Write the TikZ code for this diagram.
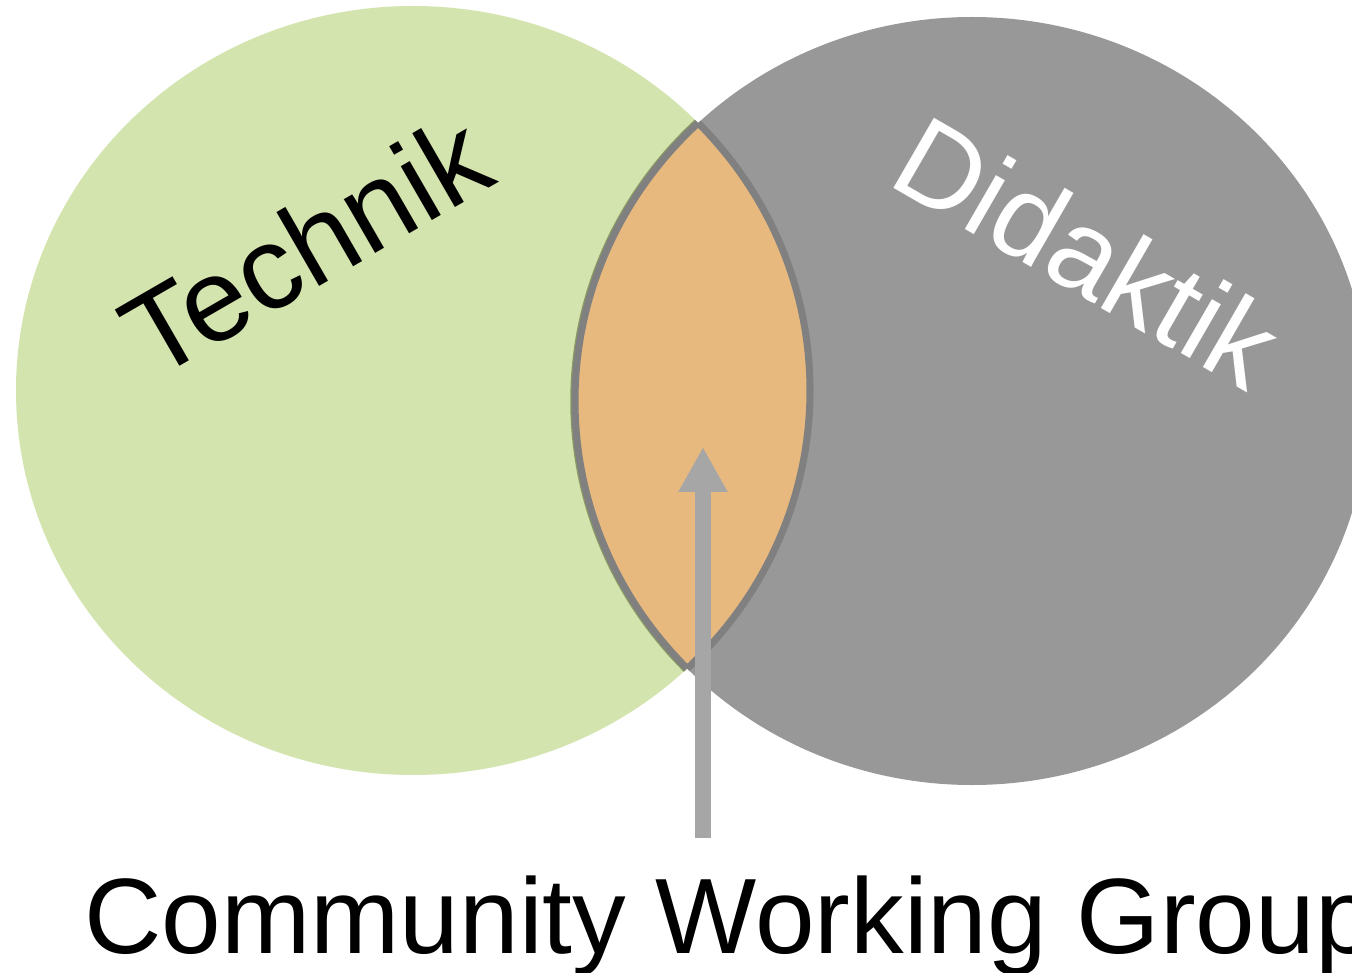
\documentclass[tikz,border=0pt]{standalone}
\usepackage{tikz}
\usepackage{xcolor}
\usepackage{fontspec}
\setmainfont{Liberation Sans}
\usetikzlibrary{arrows.meta}
\definecolor{venngreen}{HTML}{D3E4AF}
\definecolor{venngray}{HTML}{989898}
\definecolor{vennorange}{HTML}{E8B97E}
\definecolor{lensborder}{HTML}{808080}
\definecolor{lensolive}{HTML}{8A9A62}
\definecolor{pointergray}{HTML}{A6A6A6}
\tikzstyle{setlabel} = [inner sep=0pt, font=\fontsize{67}{80}\selectfont]
\tikzstyle{caption} = [inner sep=0pt, font=\fontsize{61}{73}\selectfont]
\tikzstyle{lensline} = [draw=lensborder, line width=4pt]
\tikzstyle{pointer} = [draw=pointergray, line width=9.1pt, -{Triangle[width=26.2pt, length=25.6pt]}]

\begin{document}
\begin{tikzpicture}[x=0.02cm, y=-0.02cm]
                \clip (0,0) rectangle (1352,973);
                \def\technikset{(413,390.5) ellipse [x radius=397, y radius=384.5]}
                \def\didaktikset{(972,401) ellipse [x radius=397, y radius=384]}
                
                \fill[venngreen] \technikset;
                \fill[venngray] \didaktikset;
                \begin{scope}
                    \clip \technikset;
                    \fill[vennorange] \didaktikset;
                    \draw[lensolive, line width=2pt] (972,401) ellipse [x radius=400, y radius=387];
                    \draw[lensline] \didaktikset;
                \end{scope}
                \begin{scope}
                    \clip \didaktikset;
                    \draw[lensline] \technikset;
                \end{scope}
                
                \node[setlabel, anchor=base west, rotate=30] (technik) at (153,382) {Technik};
                \node[setlabel, anchor=base west, rotate=-30, text=white] (didaktik) at (885,183) {Didaktik};
                \node[caption, anchor=base west] (cwg) at (84,953) {Community Working Group};
                
                \coordinate (arrowfoot) at (703,838);
                \coordinate (arrowtip) at (703,447);
                \draw[pointer] (arrowfoot) -- (arrowtip);
            \end{tikzpicture}
\end{document}
